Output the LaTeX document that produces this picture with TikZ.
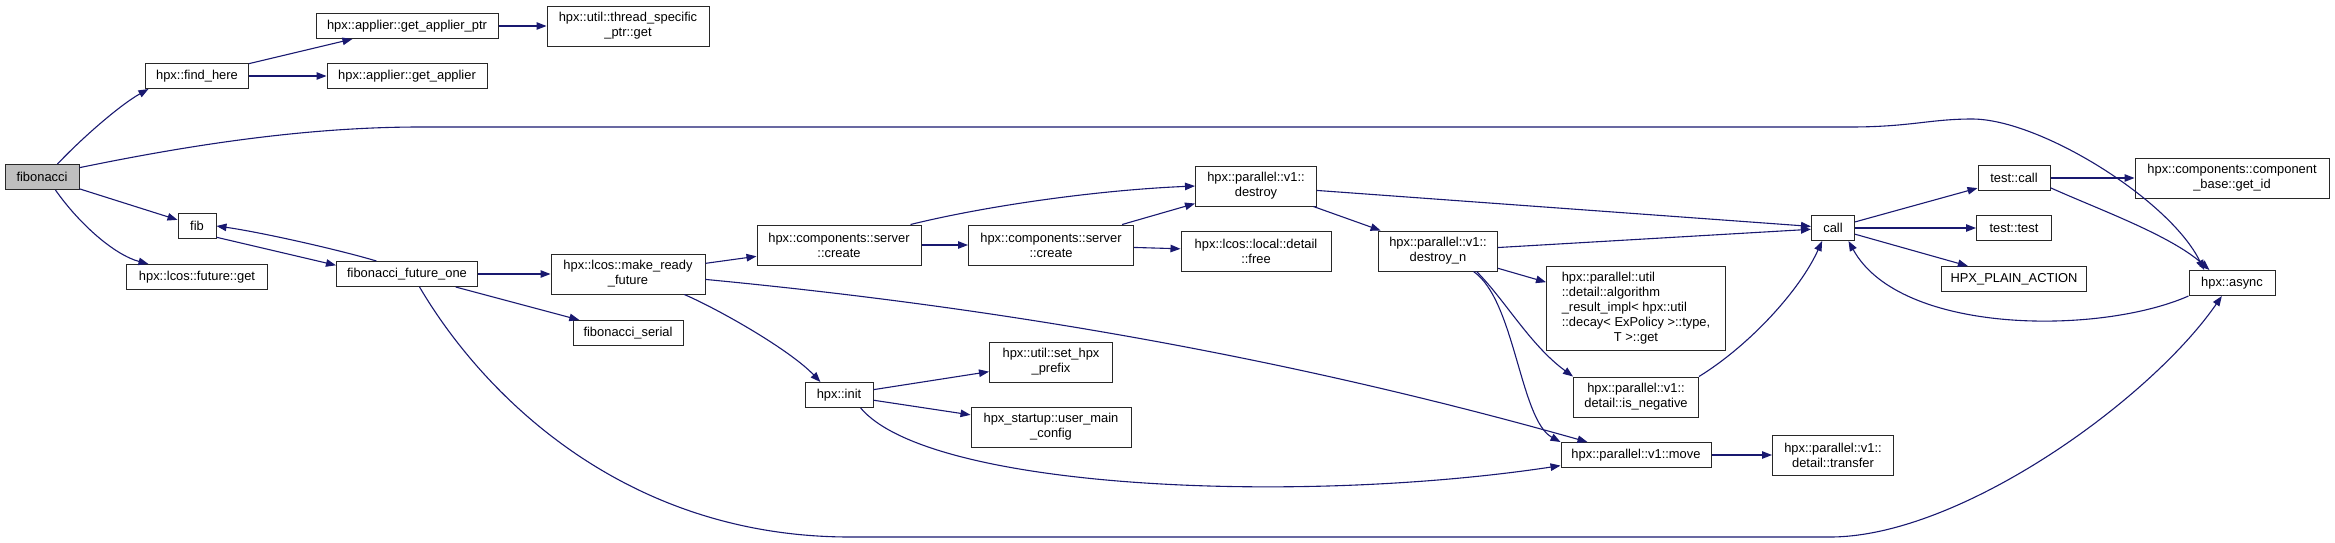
\documentclass[tikz,border=0pt]{standalone}
\usepackage{fontspec}
\setmainfont{Liberation Sans}
\definecolor{cgedge}{RGB}{25,25,112}
\definecolor{cgroot}{RGB}{191,191,191}
\definecolor{cgframe}{RGB}{40,40,40}
\usetikzlibrary{arrows.meta,positioning}

\begin{document}
\begin{tikzpicture}[x=1pt, y=-1pt,
  fn/.style={draw=cgframe, line width=1pt, fill=white, minimum height=25pt, inner sep=1pt, font=\fontsize{12.9}{15}\selectfont, align=center},
  fn2/.style={fn, minimum height=40pt},
  cg/.style={-{Triangle[length=10pt,width=7.5pt]}, cgedge, line width=1.1pt}]
  \useasboundingbox (0,0) rectangle (2335,542);

  %--- Caller ---
  \node[fn, fill=cgroot, minimum width=74pt] (fibonacci) at (42,177) {fibonacci};

  %--- First level ---
  \node[fn, minimum width=103pt] (findhere) at (197,76) {hpx::find\_here};
  \node[fn, minimum width=38pt] (fib) at (197,226) {fib};
  \node[fn, minimum width=141pt] (futureget) at (197,277) {hpx::lcos::future::get};

  \node[fn, minimum width=182pt] (applierptr) at (407,26) {hpx::applier::get\_applier\_ptr};
  \node[fn, minimum width=160pt] (applier) at (407,76) {hpx::applier::get\_applier};
  \node[fn, minimum width=141pt] (futureone) at (407,274) {fibonacci\_future\_one};

  \node[fn2, minimum width=162pt] (tsget) at (628,26) {hpx::util::thread\_specific\\\_ptr::get};
  \node[fn2, minimum width=154pt] (makeready) at (628,274) {hpx::lcos::make\_ready\\\_future};
  \node[fn, minimum width=110pt] (serial) at (628,333) {fibonacci\_serial};

  %--- Components / init ---
  \node[fn2, minimum width=164pt] (createa) at (839,245) {hpx::components::server\\::create};
  \node[fn, minimum width=68pt] (init) at (839,395) {hpx::init};

  \node[fn2, minimum width=165pt] (createb) at (1051,245) {hpx::components::server\\::create};
  \node[fn2, minimum width=123pt] (prefix) at (1051,362) {hpx::util::set\_hpx\\\_prefix};
  \node[fn2, minimum width=160pt] (mainconfig) at (1051,427) {hpx\_startup::user\_main\\\_config};

  %--- Parallel algorithms ---
  \node[fn2, minimum width=121pt] (destroy) at (1256,186) {hpx::parallel::v1::\\destroy};
  \node[fn2, minimum width=150pt] (free) at (1256,251) {hpx::lcos::local::detail\\::free};
  \node[fn2, minimum width=119pt] (destroyn) at (1438,251) {hpx::parallel::v1::\\destroy\_n};

  \node[fn, minimum width=179pt, minimum height=84pt] (algresult) at (1636,308)
    {\begin{tabular}{@{}l@{}}hpx::parallel::util\\::detail::algorithm\\\_result\_impl< hpx::util\\::decay< ExPolicy >::type,\\\multicolumn{1}{@{}c@{}}{T >::get}\end{tabular}};
  \node[fn2, minimum width=125pt] (isneg) at (1636,397) {hpx::parallel::v1::\\detail::is\_negative};
  \node[fn, minimum width=150pt] (move) at (1636,455) {hpx::parallel::v1::move};

  \node[fn, minimum width=43pt] (call) at (1833,228) {call};
  \node[fn2, minimum width=121pt] (transfer) at (1833,455) {hpx::parallel::v1::\\detail::transfer};

  %--- Test actions ---
  \node[fn, minimum width=72pt] (testcall) at (2014,178) {test::call};
  \node[fn, minimum width=75pt] (testtest) at (2014,228) {test::test};
  \node[fn, minimum width=145pt] (plainaction) at (2014,279) {HPX\_PLAIN\_ACTION};

  \node[fn2, minimum width=194pt] (getid) at (2232,178) {hpx::components::component\\\_base::get\_id};
  \node[fn, minimum width=86pt] (async) at (2232,283) {hpx::async};

  %--- Calls ---
  \draw[cg] (fibonacci.40) .. controls (82,138) and (120,105) .. (findhere.195);
  \draw[cg] (fibonacci.14) .. controls (180,147) and (300,127) .. (420,127) -- (1850,127)
    .. controls (1910,127) and (1930,119) .. (1972,119) .. controls (2040,119) and (2170,200) .. (async.155);
  \draw[cg] (fibonacci) -- (fib);
  \draw[cg] (fibonacci.-44) .. controls (80,225) and (115,255) .. (futureget.165);

  \draw[cg] (findhere) -- (applierptr);
  \draw[cg] (findhere) -- (applier);
  \draw[cg] (applierptr) -- (tsget);

  \draw[cg] (fib.-30) -- (futureone.173);
  \draw[cg] (futureone.157) .. controls (340,250) and (260,232) .. (fib.east);
  \draw[cg] (futureone) -- (makeready);
  \draw[cg] (futureone) -- (serial);
  \draw[cg] (futureone.-46) .. controls (480,390) and (620,537) .. (850,537) -- (1830,537)
    .. controls (1960,537) and (2150,400) .. (async.-128);

  \draw[cg] (makeready) -- (createa);
  \draw[cg] (makeready.-4) .. controls (1005,308) and (1290,358) .. (move.165);
  \draw[cg] (makeready.-20) .. controls (720,310) and (790,350) .. (init.145);

  \draw[cg] (createa.16) .. controls (990,205) and (1100,190) .. (destroy.west);
  \draw[cg] (createa) -- (createb);
  \draw[cg] (createb) -- (destroy);
  \draw[cg] (createb) -- (free);

  \draw[cg] (destroy) -- (call);
  \draw[cg] (destroy) -- (destroyn);
  \draw[cg] (destroyn) -- (call);
  \draw[cg] (destroyn) -- (algresult);
  \draw[cg] (destroyn.-28) .. controls (1505,300) and (1530,345) .. (isneg.north west);
  \draw[cg] (destroyn.-30) .. controls (1515,300) and (1520,420) .. (move.north west);

  \draw[cg] (init) -- (prefix);
  \draw[cg] (init) -- (mainconfig);
  \draw[cg] (init.-31) .. controls (930,490) and (1300,505) .. (move.-172);

  \draw[cg] (isneg.north east) .. controls (1750,345) and (1800,290) .. (call.-130);
  \draw[cg] (move) -- (transfer);

  \draw[cg] (call) -- (testcall);
  \draw[cg] (call) -- (testtest);
  \draw[cg] (call) -- (plainaction);

  \draw[cg] (testcall) -- (getid);
  \draw[cg] (testcall.-15) .. controls (2100,210) and (2170,235) .. (async.150);
  \draw[cg] (async.south west) .. controls (2100,335) and (1900,335) .. (call.-40);
\end{tikzpicture}
\end{document}
